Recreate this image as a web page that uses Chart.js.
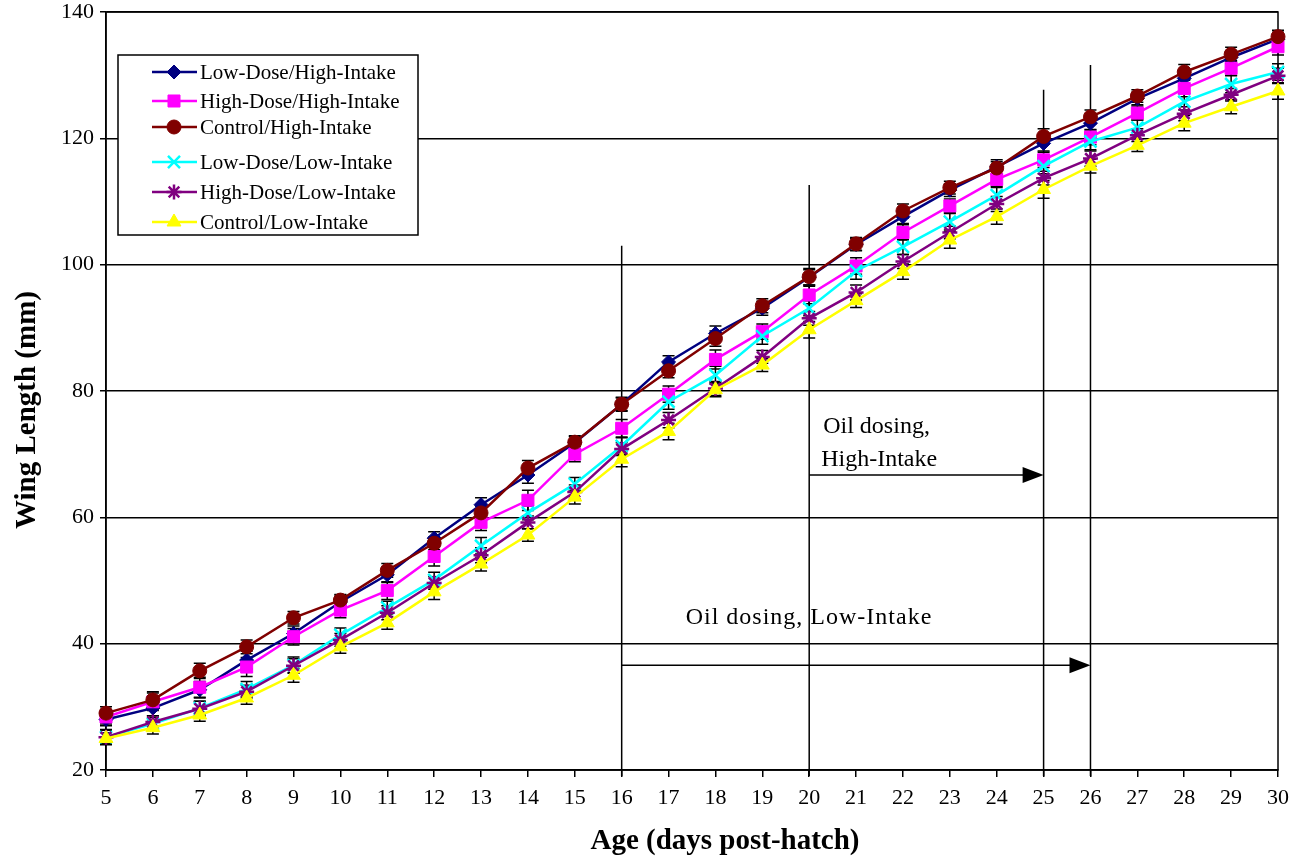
<!DOCTYPE html>
<html>
<head>
<meta charset="utf-8">
<script src="https://cdn.jsdelivr.net/npm/chart.js@4/dist/chart.umd.min.js"></script>
<style>
  html, body { margin: 0; padding: 0; background: #fff; }
  #wrap { width: 1296px; height: 862px; }
</style>
</head>
<body>
<div id="wrap"><canvas id="wing-chart" width="1296" height="862"></canvas></div>
<script>
// ages in days post-hatch
const days = [5, 6, 7, 8, 9, 10, 11, 12, 13, 14, 15, 16, 17, 18, 19, 20, 21, 22, 23, 24, 25, 26, 27, 28, 29, 30];

const seriesLabels = [
  'Low-Dose/High-Intake', 'High-Dose/High-Intake', 'Control/High-Intake',
  'Low-Dose/Low-Intake', 'High-Dose/Low-Intake', 'Control/Low-Intake'
];

// mean wing length (mm)
const lowDoseHigh  = [28.0, 29.8, 32.7, 37.4, 41.6, 46.6, 50.9, 56.7, 62.0, 66.7, 71.8, 77.9, 84.6, 89.1, 93.1, 98.0, 103.2, 107.6, 111.8, 115.5, 119.2, 122.4, 126.3, 129.5, 132.8, 135.7];
const highDoseHigh = [28.4, 30.8, 33.1, 36.3, 41.1, 45.3, 48.4, 53.8, 59.2, 62.7, 70.0, 74.1, 79.5, 85.0, 89.4, 95.2, 99.8, 105.1, 109.3, 113.5, 116.6, 120.2, 124.0, 127.9, 131.1, 134.5];
const controlHigh  = [29.0, 31.1, 35.7, 39.5, 44.1, 46.9, 51.6, 55.9, 60.7, 67.8, 71.9, 77.9, 83.2, 88.3, 93.5, 98.1, 103.3, 108.5, 112.2, 115.3, 120.3, 123.4, 126.7, 130.5, 133.3, 136.1];
const lowDoseLow   = [25.2, 27.3, 29.8, 32.8, 36.6, 41.4, 45.7, 50.1, 55.5, 60.7, 65.3, 71.3, 78.3, 82.5, 88.7, 93.1, 99.0, 102.8, 106.8, 111.0, 115.6, 119.5, 121.7, 125.8, 128.6, 130.5];
const highDoseLow  = [25.2, 27.6, 29.7, 32.4, 36.5, 40.6, 44.9, 49.6, 54.0, 59.2, 64.0, 70.8, 75.4, 80.4, 85.4, 91.5, 95.6, 100.5, 105.1, 109.6, 113.7, 116.8, 120.5, 123.9, 126.9, 129.9];
const controlLow   = [25.0, 26.7, 28.7, 31.4, 35.0, 39.5, 43.3, 48.2, 52.6, 57.2, 63.2, 69.2, 73.6, 80.2, 84.1, 89.7, 94.3, 98.9, 103.9, 107.6, 111.9, 115.6, 118.9, 122.4, 125.0, 127.5];

// standard errors (mm)
const lowDoseHighErr  = [1.0, 1.2, 1.3, 1.4, 1.2, 1.1, 1.2, 1.0, 1.1, 1.3, 1.0, 1.1, 1.0, 1.2, 1.1, 1.2, 1.0, 1.1, 1.0, 1.1, 1.2, 1.1, 1.0, 1.2, 1.0, 1.1];
const highDoseHighErr = [1.1, 1.4, 1.6, 1.5, 1.3, 1.2, 1.4, 1.5, 1.3, 1.6, 1.2, 1.4, 1.3, 1.5, 1.2, 1.4, 1.3, 1.2, 1.1, 1.3, 1.2, 1.2, 1.1, 1.3, 1.2, 1.3];
const controlHighErr  = [1.0, 1.3, 1.2, 1.1, 1.0, 0.9, 1.1, 1.0, 1.0, 1.2, 1.0, 1.0, 1.1, 1.2, 1.1, 1.3, 1.0, 1.1, 1.0, 1.0, 1.2, 1.1, 1.0, 1.2, 1.1, 1.0];
const lowDoseLowErr   = [1.2, 1.0, 1.1, 1.2, 1.3, 1.1, 1.0, 1.2, 1.3, 1.1, 1.0, 1.3, 1.2, 1.4, 1.3, 1.2, 1.3, 1.2, 1.3, 1.4, 1.2, 1.3, 1.2, 1.3, 1.4, 1.3];
const highDoseLowErr  = [1.1, 1.0, 1.2, 1.0, 1.1, 1.0, 1.1, 1.0, 1.2, 1.0, 1.1, 1.0, 1.2, 1.1, 1.0, 1.1, 1.2, 1.1, 1.0, 1.2, 1.1, 1.2, 1.0, 1.1, 1.0, 1.2];
const controlLowErr   = [0.9, 1.0, 1.0, 1.0, 1.1, 1.0, 1.0, 1.2, 1.1, 1.0, 1.1, 1.2, 1.3, 1.1, 1.0, 1.3, 1.1, 1.2, 1.3, 1.2, 1.4, 1.1, 1.0, 1.2, 1.1, 1.3];

const yTicks = [20, 40, 60, 80, 100, 120, 140];

// dosing periods [start day, end day], arrow level and top of the marker lines (mm)
const dosingHigh = [20, 25];
const dosingLow = [16, 26];
const dosingHighArrowY = 66.7;
const dosingLowArrowY = 36.6;
const dosingLineTops = [103, 112.6, 127.7, 131.6]; // days 16, 20, 25, 26

const SERIF = '"Liberation Serif", "Times New Roman", serif';

const styles = [
  { color: '#000080', pointStyle: 'rectRot', radius: 7, pointBorderWidth: 1 },
  { color: '#ff00ff', pointStyle: 'rect', radius: 8.5, pointBorderWidth: 1 },
  { color: '#800000', pointStyle: 'circle', radius: 7, pointBorderWidth: 1 },
  { color: '#00ffff', pointStyle: 'crossRot', radius: 8.5, pointBorderWidth: 2.5 },
  { color: '#800080', pointStyle: 'star', radius: 7.5, pointBorderWidth: 2.5 },
  { color: '#ffff00', pointStyle: 'triangle', radius: 8, pointBorderWidth: 1 }
];

const values = [lowDoseHigh, highDoseHigh, controlHigh, lowDoseLow, highDoseLow, controlLow];
const errors = [lowDoseHighErr, highDoseHighErr, controlHighErr, lowDoseLowErr, highDoseLowErr, controlLowErr];

const datasets = values.map((vals, i) => ({
  label: seriesLabels[i],
  data: vals.map((v, j) => ({ x: days[j], y: v })),
  errors: errors[i],
  borderColor: styles[i].color,
  backgroundColor: styles[i].color,
  borderWidth: 2.5,
  pointStyle: styles[i].pointStyle,
  pointRadius: styles[i].radius,
  pointBackgroundColor: styles[i].color,
  pointBorderColor: styles[i].color,
  pointBorderWidth: styles[i].pointBorderWidth,
  tension: 0,
  clip: false,
  order: values.length - 1 - i   // later series drawn on top
}));

// plot frame, dosing markers, and error bars under the series
const backdrop = {
  id: 'backdrop',
  beforeDatasetsDraw(chart) {
    const { ctx, chartArea: a, scales: { x, y } } = chart;
    ctx.save();
    ctx.strokeStyle = '#000';
    ctx.fillStyle = '#000';
    ctx.lineWidth = 1.5;
    ctx.strokeRect(a.left, a.top, a.right - a.left, a.bottom - a.top);

    // vertical dosing markers
    const lineDays = [dosingLow[0], dosingHigh[0], dosingHigh[1], dosingLow[1]];
    lineDays.forEach((d, i) => {
      const px = x.getPixelForValue(d);
      ctx.beginPath();
      ctx.moveTo(px, y.getPixelForValue(dosingLineTops[i]));
      ctx.lineTo(px, a.bottom + 6);
      ctx.stroke();
    });

    const arrow = (d0, d1, v) => {
      const x0 = x.getPixelForValue(d0), x1 = x.getPixelForValue(d1), py = y.getPixelForValue(v);
      ctx.beginPath();
      ctx.moveTo(x0, py);
      ctx.lineTo(x1 - 20, py);
      ctx.stroke();
      ctx.beginPath();
      ctx.moveTo(x1, py);
      ctx.lineTo(x1 - 21, py - 8);
      ctx.lineTo(x1 - 21, py + 8);
      ctx.closePath();
      ctx.fill();
    };
    arrow(dosingHigh[0], dosingHigh[1], dosingHighArrowY);
    arrow(dosingLow[0], dosingLow[1], dosingLowArrowY);

    ctx.font = '24px ' + SERIF;
    ctx.textBaseline = 'middle';
    ctx.textAlign = 'left';
    const hx = x.getPixelForValue(dosingHigh[0]) + 12;
    ctx.fillText('Oil dosing,', hx + 2, y.getPixelForValue(dosingHighArrowY) - 48);
    ctx.fillText('High-Intake', hx, y.getPixelForValue(dosingHighArrowY) - 15);
    ctx.letterSpacing = '1px';
    ctx.fillText('Oil dosing, Low-Intake', x.getPixelForValue(dosingLow[0]) + 64, y.getPixelForValue(dosingLowArrowY) - 47);
    ctx.letterSpacing = '0px';

    // error bars
    chart.data.datasets.forEach((ds) => {
      ds.data.forEach((p, j) => {
        const e = ds.errors[j];
        const px = x.getPixelForValue(p.x);
        const top = y.getPixelForValue(p.y + e);
        const bot = y.getPixelForValue(p.y - e);
        ctx.beginPath();
        ctx.moveTo(px, top); ctx.lineTo(px, bot);
        ctx.moveTo(px - 6, top); ctx.lineTo(px + 6, top);
        ctx.moveTo(px - 6, bot); ctx.lineTo(px + 6, bot);
        ctx.stroke();
      });
    });
    ctx.restore();
  }
};

// boxed legend inside the plot and the axis titles
const overlay = {
  id: 'overlay',
  afterDraw(chart) {
    const { ctx } = chart;
    ctx.save();
    ctx.fillStyle = '#fff';
    ctx.fillRect(118, 55, 300, 180);
    ctx.strokeStyle = '#000';
    ctx.lineWidth = 1.5;
    ctx.strokeRect(118, 55, 300, 180);

    const rows = [72, 101, 127, 162, 192, 222];
    ctx.font = '21px ' + SERIF;
    ctx.textBaseline = 'middle';
    ctx.textAlign = 'left';
    chart.data.datasets.forEach((ds, i) => {
      const ry = rows[i];
      ctx.strokeStyle = ds.borderColor;
      ctx.lineWidth = 2.5;
      ctx.beginPath();
      ctx.moveTo(152, ry);
      ctx.lineTo(197, ry);
      ctx.stroke();
      ctx.fillStyle = ds.pointBackgroundColor;
      ctx.strokeStyle = ds.pointBorderColor;
      ctx.lineWidth = ds.pointBorderWidth;
      Chart.helpers.drawPoint(ctx, { pointStyle: ds.pointStyle, radius: ds.pointRadius, rotation: 0, borderWidth: ds.pointBorderWidth }, 174, ry);
      ctx.fillStyle = '#000';
      ctx.fillText(ds.label, 200, ry + 1);
    });

    ctx.font = 'bold 29px ' + SERIF;
    ctx.textAlign = 'center';
    ctx.fillStyle = '#000';
    ctx.fillText('Age (days post-hatch)', 725, 842);
    ctx.translate(28, 410);
    ctx.rotate(-Math.PI / 2);
    ctx.fillText('Wing Length (mm)', 0, 0);
    ctx.restore();
  }
};

new Chart(document.getElementById('wing-chart'), {
  type: 'line',
  data: { datasets },
  options: {
    responsive: false,
    animation: false,
    events: [],
    layout: { padding: { top: 12, right: 18, left: 0, bottom: 0 } },
    plugins: { legend: { display: false }, tooltip: { enabled: false } },
    scales: {
      x: {
        type: 'linear',
        min: 5,
        max: 30,
        afterFit: (s) => { s.height = 92; s.paddingLeft = 0; s.paddingRight = 0; },
        ticks: { stepSize: 1, color: '#000', padding: 8, font: { family: SERIF, size: 22 } },
        grid: { drawOnChartArea: false, color: '#000', lineWidth: 1.5, tickLength: 7 },
        border: { color: '#000', width: 1.5 }
      },
      y: {
        min: 20,
        max: 140,
        afterFit: (s) => { s.width = 106; s.paddingTop = 0; s.paddingBottom = 0; },
        afterBuildTicks: (s) => { s.ticks = yTicks.map((v) => ({ value: v })); },
        ticks: { color: '#000', padding: 6, font: { family: SERIF, size: 22 } },
        grid: { color: '#000', lineWidth: 1.5, tickLength: 6 },
        border: { color: '#000', width: 1.5 }
      }
    }
  },
  plugins: [backdrop, overlay]
});
</script>
</body>
</html>
